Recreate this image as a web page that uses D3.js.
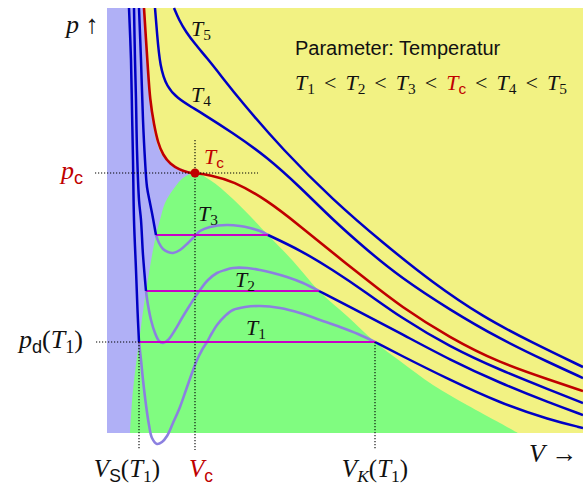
<!DOCTYPE html>
<html>
<head>
<meta charset="utf-8">
<script src="https://cdn.jsdelivr.net/npm/d3@7"></script>
<style>
body { margin: 0; background: #fff; }
</style>
</head>
<body>
<div id="vis"></div>
<script>
var w = 583;
var h = 489;

// volume V and pressure p in arbitrary units
var Vmax = 47.6, pmax = 42.5;
var Vc = 8.8, pc = 26.0;
var plateauP = [9.1, 14.2, 19.8];      // T1, T2, T3
var plateauVS = [3.2, 3.9, 4.9];       // liquid end of the plateau
var plateauVK = [26.8, 21.2, 16.1];    // gas end of the plateau

// two-phase dome (green), left branch bottom -> critical point, right branch critical point -> bottom
var domeLeft = [[2.3,0],[2.6,4.3],[3.2,9.1],[3.9,14.2],[4.9,19.8],[5.3,21.3],[5.8,23.0],[6.8,24.6],[7.6,25.5],[8.8,26.0]];
var domeRight = [[8.8,26.0],[10.3,25.3],[12.6,23.4],[16.1,19.8],[18.6,17.2],[21.2,14.2],[24.0,11.7],[26.8,9.1],[29.3,7.2],[32.6,4.8],[36.0,2.8],[39.3,1.0],[41.1,0]];
// upper edge of the liquid region (lavender), top -> critical point
var liquidEdge = [[3.7,42.5],[3.9,39.3],[4.1,36.3],[4.3,33.3],[4.6,30.8],[5.0,29.0],[5.5,27.8],[6.3,27.0],[7.3,26.5],[8.1,26.2],[8.8,26.0]];

// isotherms below Tc: liquid branch, van der Waals loop, gas branch
var t1Liquid = [[2.2,42.5],[2.4,37.3],[2.5,32.3],[2.6,27.3],[2.7,21.3],[2.9,16.3],[3.05,12.3],[3.2,9.1]];
var t1Loop = [[3.2,9.1],[3.4,7.3],[3.6,5.3],[3.9,2.8],[4.2,0.8],[4.5,-0.5],[5.0,-1.1],[5.5,-0.9],[6.0,-0.3],[6.6,1.0],[7.3,2.6],[7.9,4.3],[8.5,6.0],[9.0,7.3],[9.5,8.3],[10.0,9.1],[10.5,10.0],[11.0,10.8],[11.8,11.7],[12.6,12.3],[13.8,12.6],[15.3,12.7],[17.3,12.5],[19.3,12.0],[21.3,11.3],[23.3,10.6],[25.1,9.9],[26.8,9.1]];
var t1Gas = [[26.8,9.1],[29.3,7.8],[34.3,5.3],[39.3,3.0],[44.3,1.3],[47.6,0.5]];

var t2Liquid = [[2.7,42.5],[2.8,37.3],[2.9,33.3],[3.0,28.3],[3.2,23.3],[3.4,21.3],[3.6,17.8],[3.9,14.2]];
var t2Loop = [[3.9,14.2],[4.1,12.8],[4.4,11.3],[4.8,10.0],[5.2,9.2],[5.6,9.0],[6.1,9.3],[6.8,10.3],[7.5,11.5],[8.3,12.8],[9.3,14.3],[10.1,15.3],[11.0,16.0],[11.8,16.3],[12.6,16.5],[14.0,16.5],[15.3,16.3],[16.6,16.0],[18.0,15.6],[19.6,15.0],[21.2,14.2]];
var t2Gas = [[21.2,14.2],[24.3,12.6],[29.3,10.0],[34.3,7.3],[39.3,5.0],[44.3,3.0],[47.6,1.8]];

var t3Liquid = [[3.2,42.5],[3.4,37.3],[3.6,31.3],[3.8,27.3],[4.0,24.6],[4.3,23.0],[4.5,22.0],[4.7,20.9],[4.9,19.8]];
var t3Loop = [[4.9,19.8],[5.2,19.0],[5.6,18.4],[6.1,18.1],[6.6,18.0],[7.3,18.3],[8.1,19.0],[8.8,19.7],[9.3,20.2],[10.3,20.6],[12.0,20.8],[13.3,20.7],[14.3,20.5],[15.3,20.2],[16.1,19.8]];
var t3Gas = [[16.1,19.8],[19.3,18.3],[22.6,16.3],[26.0,14.0],[29.3,11.6],[34.3,8.6],[39.3,6.3],[44.3,4.3],[47.6,3.0]];

// critical isotherm and the two above it
var tcCurve = [[3.7,42.5],[3.9,39.3],[4.1,36.3],[4.3,33.3],[4.7,30.8],[5.1,29.0],[5.6,27.8],[6.3,26.9],[7.3,26.3],[8.1,26.05],[8.8,26.0],[10.3,25.8],[12.6,25.2],[16.0,23.3],[19.3,20.7],[22.6,18.0],[26.0,15.3],[29.3,12.7],[34.3,9.5],[39.3,7.0],[44.3,5.3],[47.6,4.2]];
var t4Curve = [[4.8,42.5],[5.0,40.0],[5.3,36.6],[6.0,34.6],[7.0,33.5],[8.6,32.5],[9.3,32.1],[12.6,30.0],[16.0,27.6],[19.3,24.6],[22.6,21.3],[26.0,18.3],[29.3,15.6],[34.3,12.3],[39.3,9.4],[44.3,7.0],[47.6,5.5]];
var t5Curve = [[6.7,42.5],[7.2,41.3],[7.9,40.1],[8.8,38.9],[10.0,37.5],[11.5,35.6],[13.3,33.3],[17.6,28.3],[22.6,23.3],[27.6,19.0],[32.6,15.0],[37.6,11.6],[42.6,9.0],[47.6,6.6]];

// isotherm labels and where they sit (V, p)
var isoNames = ["1", "2", "3", "c", "4", "5"];
var isoLabelPos = [[13.9,9.8],[12.8,14.6],[9.1,21.2],[9.7,26.9],[8.4,33.1],[8.4,39.7]];

var blue = "#0000c4", red = "#c00000", loopCol = "#8c80e0", magenta = "#c800c8";
var serif = "Liberation Serif", sans = "Liberation Sans";

var canvas = d3.select("#vis").append("svg")
    .attr("width", w)
    .attr("height", h);

var x = d3.scaleLinear().domain([0, Vmax]).range([107, 583]);
var y = d3.scaleLinear().domain([0, pmax]).range([433, 8]);

// sharp features (loops, steep liquid branches) go through the points, the rest is smoothed
var line = d3.line()
    .x(d => x(d[0]))
    .y(d => y(d[1]))
    .curve(d3.curveCatmullRom.alpha(0.5));
var smooth = d3.line()
    .x(d => x(d[0]))
    .y(d => y(d[1]))
    .curve(d3.curveBasis);

// gas region background
canvas.append("rect")
    .attr("x", x(0)).attr("y", y(pmax))
    .attr("width", x(Vmax) - x(0)).attr("height", y(0) - y(pmax))
    .attr("fill", "#f2f283");

// liquid region: down to the critical point, then straight down (the dome covers the rest)
canvas.append("path")
    .attr("d", line(liquidEdge) + "L" + x(Vc) + "," + y(0) + "L" + x(0) + "," + y(0) + "L" + x(0) + "," + y(pmax) + "Z")
    .attr("fill", "#b0b0f6");

// two-phase dome
canvas.append("path")
    .attr("d", line(domeLeft.concat(domeRight.slice(1))) + "Z")
    .attr("fill", "#80fc80");

// van der Waals loops
[t1Loop, t2Loop, t3Loop].forEach(function(d) {
    canvas.append("path").attr("d", line(d))
        .attr("fill", "none").attr("stroke", loopCol).attr("stroke-width", 2.6);
});

// Maxwell plateaus
for (var i = 0; i < 3; i++) {
    canvas.append("line")
        .attr("x1", x(plateauVS[i])).attr("x2", x(plateauVK[i]))
        .attr("y1", y(plateauP[i])).attr("y2", y(plateauP[i]))
        .attr("stroke", magenta).attr("stroke-width", 2.2);
}

[t1Liquid, t2Liquid, t3Liquid].forEach(function(d) {
    canvas.append("path").attr("d", line(d))
        .attr("fill", "none").attr("stroke", blue).attr("stroke-width", 2.5);
});
[t1Gas, t2Gas, t3Gas, t4Curve, t5Curve].forEach(function(d) {
    canvas.append("path").attr("d", smooth(d))
        .attr("fill", "none").attr("stroke", blue).attr("stroke-width", 2.5);
});
canvas.append("path").attr("d", smooth(tcCurve))
    .attr("fill", "none").attr("stroke", red).attr("stroke-width", 2.6);

// dotted helper lines
function dotted(v1, p1, v2, p2) {
    canvas.append("line")
        .attr("x1", x(v1)).attr("y1", y(p1)).attr("x2", x(v2)).attr("y2", y(p2))
        .attr("stroke", "#000").attr("stroke-width", 1.1)
        .attr("stroke-dasharray", "1.2,1.8");
}
dotted(-1.2, pc, 15.1, pc);
dotted(Vc, 29.3, Vc, -1.7);
dotted(-1.1, plateauP[0], plateauVS[0], plateauP[0]);
dotted(plateauVS[0], plateauP[0], plateauVS[0], -1.7);
dotted(plateauVK[0], plateauP[0], plateauVK[0], -1.7);

canvas.append("circle")
    .attr("cx", x(Vc)).attr("cy", y(pc)).attr("r", 4.5)
    .attr("fill", red);

// text with subscripts; parts = [text, kind, colour], kind: i italic serif, r roman serif, s sans, leading _ = subscript
function rich(px, py, parts, size, anchor) {
    var t = canvas.append("text")
        .attr("x", px).attr("y", py)
        .attr("font-size", size)
        .attr("text-anchor", anchor || "start");
    var wasSub = false;
    parts.forEach(function(p) {
        var kind = p[1];
        var sub = kind.charAt(0) == "_";
        if (sub) kind = kind.slice(1);
        var s = t.append("tspan").text(p[0])
            .attr("fill", p[2] || "#111")
            .attr("font-family", kind == "s" ? sans : serif)
            .attr("font-style", kind == "i" ? "italic" : "normal");
        if (sub) s.attr("font-size", size * 0.7);
        if (sub && !wasSub) s.attr("dy", size * 0.2);
        if (!sub && wasSub) s.attr("dy", -size * 0.2);
        wasSub = sub;
    });
    return t;
}

// isotherm labels
isoNames.forEach(function(n, i) {
    var c = n == "c" ? red : "#111";
    rich(x(isoLabelPos[i][0]), y(isoLabelPos[i][1]),
        [["T", "i", c], [n, n == "c" ? "_s" : "_r", c]], 22);
});

// axis labels
rich(66, y(pmax) + 25, [["p", "i"], [" \u2191", "r"]], 26);
rich(529, y(0) + 29, [["V", "i"], [" \u2192", "r"]], 26);
rich(83, y(pc) + 6, [["p", "i", red], ["c", "_s", red]], 26, "end");
rich(83, y(plateauP[0]) + 6, [["p", "i"], ["d", "_s"], ["(", "r"], ["T", "i"], ["1", "_r"], [")", "r"]], 26, "end");
rich(x(plateauVS[0]) - 12, 477, [["V", "i"], ["S", "_s"], ["(", "r"], ["T", "i"], ["1", "_r"], [")", "r"]], 25, "middle");
rich(x(Vc) + 6, 477, [["V", "i", red], ["c", "_s", red]], 25, "middle");
rich(x(plateauVK[0]), 477, [["V", "i"], ["K", "_i"], ["(", "r"], ["T", "i"], ["1", "_r"], [")", "r"]], 25, "middle");

// parameter note
canvas.append("text")
    .attr("x", 295).attr("y", 55)
    .attr("font-family", sans).attr("font-size", 20).attr("fill", "#111")
    .text("Parameter: Temperatur");
var order = [];
isoNames.forEach(function(n, i) {
    var c = n == "c" ? red : "#111";
    if (i > 0) order.push([" < ", "r"]);
    order.push(["T", "i", c]);
    order.push([n, n == "c" ? "_s" : "_r", c]);
});
rich(295, 90, order, 22).style("white-space", "pre").attr("word-spacing", 3.5);
</script>
</body>
</html>
